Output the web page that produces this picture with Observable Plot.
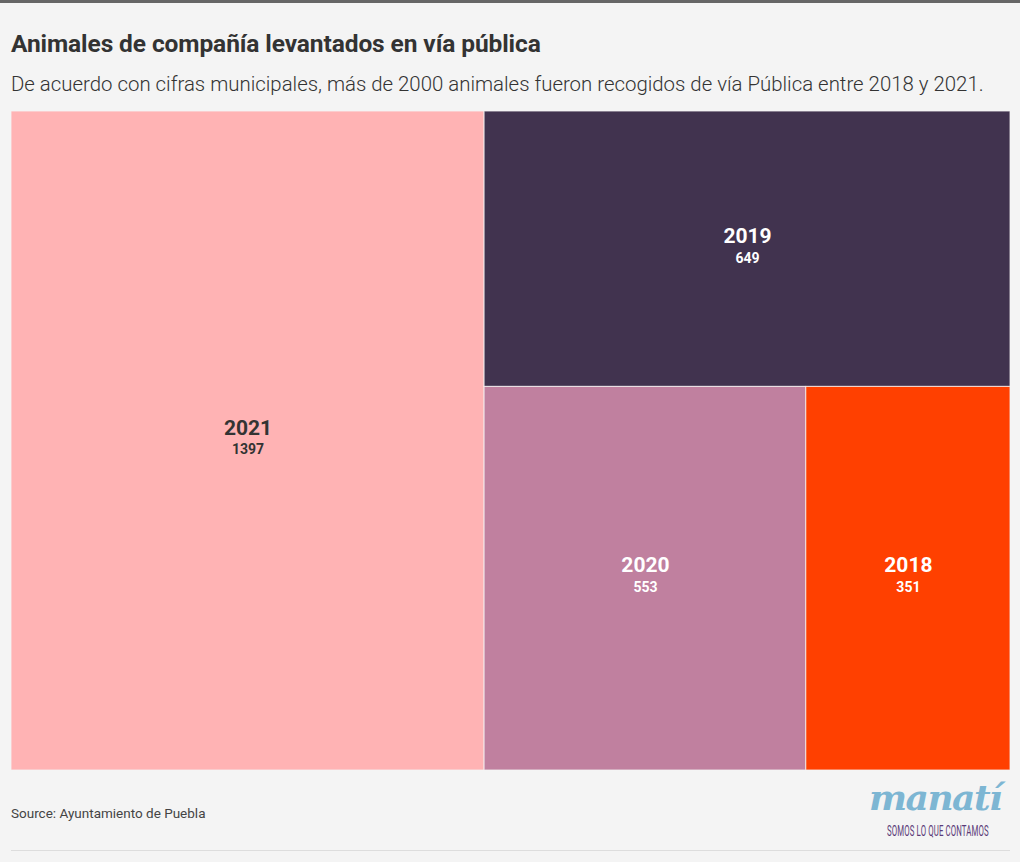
<!DOCTYPE html>
<html>
<head>
<meta charset="utf-8">
<script src="https://cdn.jsdelivr.net/npm/d3@7"></script>
<script src="https://cdn.jsdelivr.net/npm/@observablehq/plot@0.6"></script>
<style>
  html, body { margin: 0; padding: 0; background: #f4f4f4; }
  body { width: 1020px; height: 862px; position: relative; overflow: hidden; font-family: Roboto, "Noto Sans", sans-serif; color: #333; }
  #topbar { position: absolute; left: 0; top: 0; width: 1020px; height: 3px; background: #666; }
  #title { position: absolute; left: 11px; top: 29px; font-size: 24.5px; font-weight: 700; color: #333; white-space: nowrap; letter-spacing: -0.1px; }
  #subtitle { position: absolute; left: 11px; top: 72px; font-size: 20.4px; font-weight: 300; color: #333; white-space: nowrap; }
  #chart { position: absolute; left: 11px; top: 111px; }
  #source { position: absolute; left: 11px; top: 805px; font-size: 13.5px; color: #444; white-space: nowrap; }
  #rule { position: absolute; left: 11px; top: 850px; width: 999px; height: 1px; background: #ddd; }
  #logo { position: absolute; left: 866px; top: 776px; width: 150px; height: 70px; }
  #logo .word { position: absolute; left: 3px; top: 0px; font-family: "DejaVu Serif", serif; font-style: italic; font-weight: 700; font-size: 36px; color: #7db6d3; letter-spacing: -1.5px; }
  #logo .tag { position: absolute; left: 21px; top: 47px; font-size: 14px; color: #5a3a78; white-space: nowrap; transform: scaleX(0.56); transform-origin: left top; letter-spacing: 0.2px; }
</style>
</head>
<body>
<div id="topbar"></div>
<div id="title">Animales de compañía levantados en vía pública</div>
<div id="subtitle">De acuerdo con cifras municipales, más de 2000 animales fueron recogidos de vía Pública entre 2018 y 2021.</div>
<div id="chart"></div>
<div id="source">Source: Ayuntamiento de Puebla</div>
<div id="logo"><div class="word">manatí</div><div class="tag">SOMOS LO QUE CONTAMOS</div></div>
<div id="rule"></div>
<script>
const years = ["2021", "2019", "2020", "2018"];
const counts = [1397, 649, 553, 351];
const colors = ["#ffb3b4", "#41334f", "#c0809f", "#ff4000"];
const labelColors = ["#333333", "#ffffff", "#ffffff", "#ffffff"];

const W = 999, H = 659;
const root = d3.hierarchy({children: years.map((y, i) => ({year: y, value: counts[i]}))})
  .sum(d => d.value || 0)
  .sort((a, b) => b.value - a.value);
d3.treemap().tile(d3.treemapBinary).size([W, H]).round(false)(root);
const cells = root.leaves().map(l => ({
  year: l.data.year, value: l.data.value,
  x0: l.x0, x1: l.x1, y0: l.y0, y1: l.y1,
  cx: (l.x0 + l.x1) / 2, cy: (l.y0 + l.y1) / 2
}));

const plot = Plot.plot({
  width: W, height: H,
  margin: 0,
  x: {domain: [0, W], range: [0, W], axis: null},
  y: {domain: [0, H], range: [0, H], axis: null},
  color: {domain: years, range: colors},
  style: {background: "transparent", fontFamily: "Roboto, 'Noto Sans', sans-serif"},
  marks: [
    Plot.rect(cells, {x1: "x0", x2: "x1", y1: "y0", y2: "y1", fill: "year", stroke: "#f4f4f4", strokeWidth: 1, strokeOpacity: 0.8}),
    Plot.text(cells, {x: "cx", y: "cy", text: "year", dy: -13, fontSize: 21, fontWeight: 700,
      fill: d => labelColors[years.indexOf(d.year)]}),
    Plot.text(cells, {x: "cx", y: "cy", text: d => String(d.value), dy: 9, fontSize: 14, fontWeight: 700,
      fill: d => labelColors[years.indexOf(d.year)]})
  ]
});
document.getElementById("chart").appendChild(plot);
</script>
</body>
</html>
